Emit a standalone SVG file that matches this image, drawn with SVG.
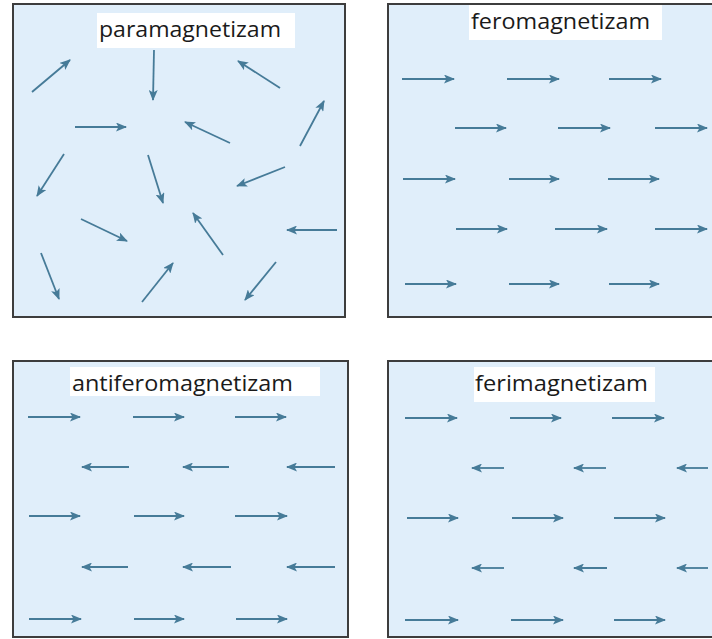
<svg xmlns="http://www.w3.org/2000/svg" width="712" height="639" viewBox="0 0 712 639">
<defs>
<marker id="ah" viewBox="0 0 11 9" refX="10" refY="4.5" markerWidth="11" markerHeight="9" markerUnits="userSpaceOnUse" orient="auto">
<path d="M0,0 L11,4.5 L0,9 L2.5,4.5 Z" fill="#467b98"/>
</marker>
<style>
.panel{fill:#e0eefa;stroke:#3d3d3d;stroke-width:2}
.lbl{fill:#ffffff}
.t{font-family:"Open Sans","Liberation Sans",sans-serif;font-size:22px;fill:#1a1a1a}
.a{stroke:#467b98;stroke-width:1.8;fill:none;marker-end:url(#ah)}
</style>
</defs>
<rect width="712" height="639" fill="#ffffff"/>

<g id="paramagnetizam">
<rect class="panel" x="13" y="4" width="332" height="313"/>
<rect class="lbl" x="97" y="13" width="198" height="35"/>
<text class="t" x="99" y="37" textLength="182" lengthAdjust="spacingAndGlyphs">paramagnetizam</text>
<g id="para-arrows">
<line class="a" x1="32" y1="92" x2="70" y2="60"/>
<line class="a" x1="154" y1="50" x2="153" y2="100"/>
<line class="a" x1="280" y1="88" x2="238" y2="61"/>
<line class="a" x1="75" y1="127" x2="126" y2="127"/>
<line class="a" x1="230" y1="143" x2="185" y2="122"/>
<line class="a" x1="300" y1="146" x2="324" y2="101"/>
<line class="a" x1="64" y1="154" x2="37" y2="196"/>
<line class="a" x1="148" y1="155" x2="163" y2="203"/>
<line class="a" x1="285" y1="167" x2="237" y2="186"/>
<line class="a" x1="81" y1="219" x2="127" y2="241"/>
<line class="a" x1="223" y1="255" x2="193" y2="213"/>
<line class="a" x1="337" y1="230" x2="287" y2="230"/>
<line class="a" x1="41" y1="253" x2="59" y2="299"/>
<line class="a" x1="142" y1="302" x2="173" y2="263"/>
<line class="a" x1="276" y1="262" x2="245" y2="300"/>
</g>
</g>

<g id="feromagnetizam">
<rect class="panel" x="388" y="4" width="330" height="313"/>
<rect class="lbl" x="469" y="5" width="193" height="35"/>
<text class="t" x="471" y="29" textLength="179" lengthAdjust="spacingAndGlyphs">feromagnetizam</text>
<g id="fero-arrows">
<line class="a" x1="402" y1="79" x2="454" y2="79"/>
<line class="a" x1="507" y1="79" x2="559" y2="79"/>
<line class="a" x1="609" y1="79" x2="661" y2="79"/>
<line class="a" x1="455" y1="128" x2="506" y2="128"/>
<line class="a" x1="558" y1="128" x2="610" y2="128"/>
<line class="a" x1="655" y1="128" x2="707" y2="128"/>
<line class="a" x1="403" y1="179" x2="455" y2="179"/>
<line class="a" x1="509" y1="179" x2="559" y2="179"/>
<line class="a" x1="608" y1="179" x2="659" y2="179"/>
<line class="a" x1="456" y1="229" x2="507" y2="229"/>
<line class="a" x1="555" y1="229" x2="607" y2="229"/>
<line class="a" x1="655" y1="229" x2="707" y2="229"/>
<line class="a" x1="405" y1="284" x2="456" y2="284"/>
<line class="a" x1="509" y1="284" x2="559" y2="284"/>
<line class="a" x1="609" y1="284" x2="659" y2="284"/>
</g>
</g>

<g id="antiferomagnetizam">
<rect class="panel" x="13" y="361" width="335" height="276"/>
<rect class="lbl" x="70" y="367" width="250" height="29"/>
<text class="t" x="72" y="391" textLength="221" lengthAdjust="spacingAndGlyphs">antiferomagnetizam</text>
<g id="antifero-arrows">
<line class="a" x1="28" y1="417" x2="80" y2="417"/>
<line class="a" x1="133" y1="417" x2="184" y2="417"/>
<line class="a" x1="235" y1="417" x2="286" y2="417"/>
<line class="a" x1="129" y1="467" x2="82" y2="467"/>
<line class="a" x1="229" y1="467" x2="183" y2="467"/>
<line class="a" x1="335" y1="467" x2="287" y2="467"/>
<line class="a" x1="29" y1="516" x2="80" y2="516"/>
<line class="a" x1="134" y1="516" x2="184" y2="516"/>
<line class="a" x1="235" y1="516" x2="287" y2="516"/>
<line class="a" x1="128" y1="567" x2="82" y2="567"/>
<line class="a" x1="231" y1="567" x2="183" y2="567"/>
<line class="a" x1="335" y1="567" x2="287" y2="567"/>
<line class="a" x1="29" y1="619" x2="81" y2="619"/>
<line class="a" x1="134" y1="619" x2="184" y2="619"/>
<line class="a" x1="236" y1="619" x2="287" y2="619"/>
</g>
</g>

<g id="ferimagnetizam">
<rect class="panel" x="388" y="361" width="330" height="276"/>
<rect class="lbl" x="474" y="367" width="181" height="35"/>
<text class="t" x="475" y="391" textLength="173" lengthAdjust="spacingAndGlyphs">ferimagnetizam</text>
<g id="ferri-arrows">
<line class="a" x1="405" y1="418" x2="457" y2="418"/>
<line class="a" x1="510" y1="418" x2="561" y2="418"/>
<line class="a" x1="612" y1="418" x2="664" y2="418"/>
<line class="a" x1="504" y1="468" x2="472" y2="468"/>
<line class="a" x1="606" y1="468" x2="574" y2="468"/>
<line class="a" x1="708" y1="468" x2="677" y2="468"/>
<line class="a" x1="407" y1="518" x2="458" y2="518"/>
<line class="a" x1="512" y1="518" x2="563" y2="518"/>
<line class="a" x1="614" y1="518" x2="665" y2="518"/>
<line class="a" x1="504" y1="568" x2="472" y2="568"/>
<line class="a" x1="607" y1="568" x2="574" y2="568"/>
<line class="a" x1="708" y1="568" x2="677" y2="568"/>
<line class="a" x1="405" y1="620" x2="458" y2="620"/>
<line class="a" x1="511" y1="620" x2="563" y2="620"/>
<line class="a" x1="614" y1="620" x2="665" y2="620"/>
</g>
</g>
</svg>
